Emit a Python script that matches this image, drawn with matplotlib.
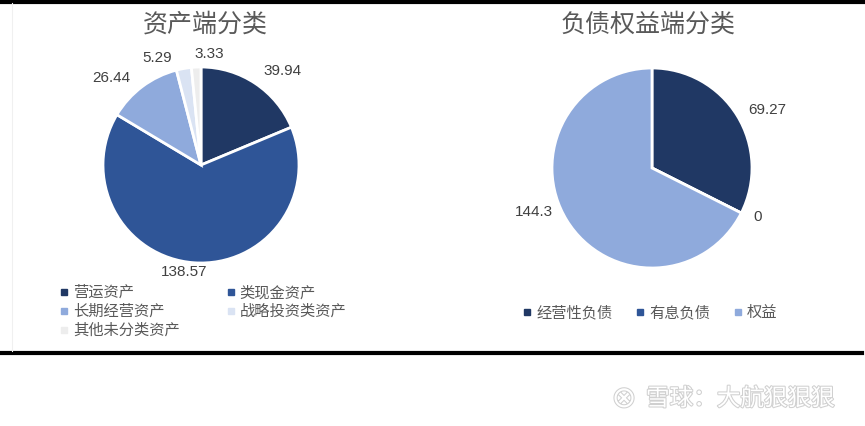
import numpy as np
import matplotlib.pyplot as plt
from matplotlib.lines import Line2D
import matplotlib.patheffects as pe

plt.rcParams['font.family'] = ['Liberation Sans', 'Noto Sans CJK SC', 'DejaVu Sans']

# ── 数据 ──────────────────────────────────────────────
asset_labels = ['营运资产', '类现金资产', '长期经营资产', '战略投资类资产', '其他未分类资产']
asset_values = [39.94, 138.57, 26.44, 5.29, 3.33]
asset_colors = ['#203864', '#2F5597', '#8FAADC', '#DAE3F3', '#EDEDED']

liab_labels = ['经营性负债', '有息负债', '权益']
liab_values = [69.27, 0, 144.3]
liab_colors = ['#203864', '#2F5597', '#8FAADC']
# ──────────────────────────────────────────────────────

W, H = 865, 426
fig = plt.figure(figsize=(W / 100, H / 100), dpi=100)
fig.patch.set_facecolor('white')


def pie_axes(cx, cy, r):
    ax = fig.add_axes([(cx - r) / W, 1 - (cy + r) / H, 2 * r / W, 2 * r / H])
    ax.axis('off')
    return ax


def draw_pie(ax, values, colors, dists, shifts):
    wedges, _ = ax.pie(values, colors=colors, startangle=90, counterclock=False,
                       radius=1, wedgeprops=dict(edgecolor='white', linewidth=2))
    ax.set_xlim(-1, 1)
    ax.set_ylim(-1, 1)
    for w, v, d, s in zip(wedges, values, dists, shifts):
        ang = np.deg2rad((w.theta1 + w.theta2) / 2 + s)
        ax.text(d * np.cos(ang), d * np.sin(ang), f'{v:g}', ha='center', va='center',
                fontsize=11, color='#404040', clip_on=False)
    return wedges


ax1 = pie_axes(201, 165, 98)
draw_pie(ax1, asset_values, asset_colors,
         [1.27, 1.11, 1.27, 1.18, 1.14], [-7, -5, 9, 12, -7])
ax2 = pie_axes(652, 168, 100)
draw_pie(ax2, liab_values, liab_colors, [1.29, 1.16, 1.26], [-5, 2, -11])

title_kw = dict(fontsize=18, color='#595959', ha='center', va='center')
fig.text(205 / W, 1 - 25 / H, '资产端分类', **title_kw)
fig.text(648 / W, 1 - 25 / H, '负债权益端分类', **title_kw)


def handles(colors):
    return [Line2D([], [], marker='s', linestyle='none', markersize=5,
                   markerfacecolor=c, markeredgecolor=c) for c in colors]


# 左图图例按行排列
order = [0, 2, 4, 1, 3]
h1 = handles(asset_colors)
fig.legend([h1[i] for i in order], [asset_labels[i] for i in order],
           loc='upper left', bbox_to_anchor=(52 / W, 1 - 278 / H),
           ncol=2, frameon=False, fontsize=11, handlelength=0.6,
           handletextpad=0.3, columnspacing=3.0, labelspacing=0.3,
           labelcolor='#595959', borderpad=0)

fig.legend(handles(liab_colors), liab_labels, loc='center',
           bbox_to_anchor=(650 / W, 1 - 313 / H), ncol=3, frameon=False,
           fontsize=11, handlelength=0.6, handletextpad=0.3,
           columnspacing=1.5, labelcolor='#595959', borderpad=0)

# 边框线
fig.add_artist(Line2D([0, 1], [1 - 1.5 / H, 1 - 1.5 / H], color='black', linewidth=3))
fig.add_artist(Line2D([0, 862 / W], [1 - 353 / H, 1 - 353 / H], color='black', linewidth=3))
fig.add_artist(Line2D([11.5 / W, 11.5 / W], [1 - 3 / H, 1 - 351 / H], color='#f0f0f0', linewidth=0.8))

# 水印
shadow = [pe.withStroke(linewidth=1.5, foreground='#d0d0d0')]
fig.text(624 / W, 1 - 399 / H, '\u2297', fontsize=21, color='white', ha='center',
         va='center', path_effects=shadow, family=['DejaVu Sans'])
fig.text(646 / W, 1 - 399 / H, '雪球：大航狠狠狠', fontsize=17, color='white',
         ha='left', va='center', path_effects=shadow,
         family=['Noto Sans CJK SC'])

fig.savefig('out.png', dpi=100, facecolor='white')
